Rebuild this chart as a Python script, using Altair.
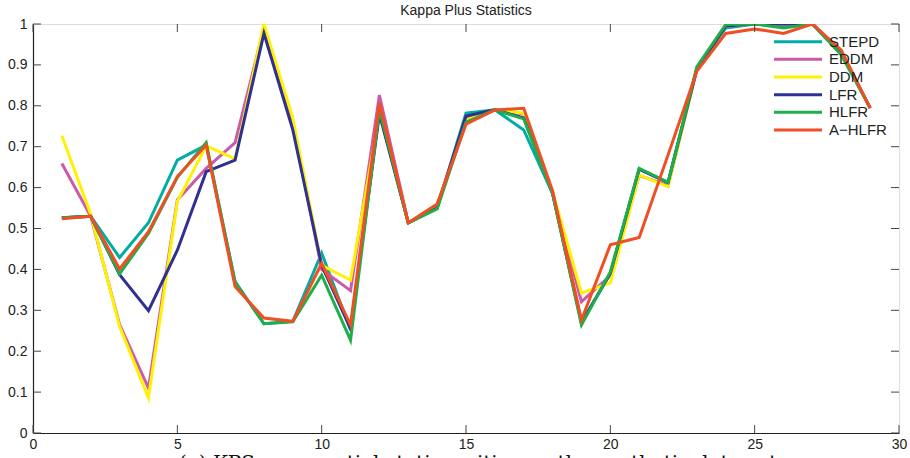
import altair as alt
import pandas as pd

x_vals = list(range(1, 30))

names = ["STEPD", "EDDM", "DDM", "LFR", "HLFR", "A\u2212HLFR"]
colors = ["#00ADA5", "#C95BAA", "#FFF200", "#2E3192", "#1FAE4B", "#F04E23"]

stepd = [0.526, 0.530, 0.429, 0.514, 0.667, 0.704, 0.370, 0.267, 0.273, 0.440,
         0.252, 0.790, 0.514, 0.550, 0.782, 0.790, 0.741, 0.585, 0.270, 0.390,
         0.645, 0.612, 0.893, 0.990, 1.000, 0.995, 1.000, 0.930, 0.795]
eddm = [0.659, 0.530, 0.265, 0.110, 0.570, 0.647, 0.710, 0.990, 0.760, 0.400,
        0.348, 0.826, 0.514, 0.555, 0.768, 0.790, 0.780, 0.587, 0.321, 0.385,
        0.630, 0.605, 0.890, 0.995, 1.000, 1.000, 1.000, 0.930, 0.795]
ddm = [0.727, 0.535, 0.260, 0.086, 0.566, 0.702, 0.670, 1.000, 0.770, 0.410,
       0.374, 0.780, 0.514, 0.550, 0.765, 0.790, 0.782, 0.590, 0.342, 0.367,
       0.631, 0.602, 0.890, 0.995, 1.000, 1.000, 1.000, 0.930, 0.795]
lfr = [0.526, 0.530, 0.387, 0.299, 0.447, 0.639, 0.667, 0.977, 0.741, 0.410,
       0.255, 0.780, 0.514, 0.550, 0.775, 0.790, 0.770, 0.587, 0.270, 0.390,
       0.645, 0.612, 0.890, 0.995, 1.000, 1.000, 1.000, 0.930, 0.795]
hlfr = [0.526, 0.530, 0.389, 0.488, 0.625, 0.710, 0.369, 0.267, 0.272, 0.386,
        0.227, 0.790, 0.514, 0.548, 0.760, 0.790, 0.768, 0.585, 0.264, 0.394,
        0.647, 0.613, 0.896, 0.999, 1.000, 0.990, 1.000, 0.924, 0.795]
ahlfr = [0.524, 0.530, 0.401, 0.492, 0.627, 0.704, 0.358, 0.281, 0.273, 0.415,
         0.264, 0.807, 0.514, 0.560, 0.755, 0.790, 0.794, 0.592, 0.276, 0.460,
         0.478, 0.680, 0.885, 0.977, 0.988, 0.977, 1.000, 0.936, 0.794]

series = [stepd, eddm, ddm, lfr, hlfr, ahlfr]

x_ticks = [0, 5, 10, 15, 20, 25, 30]
y_ticks = [0, 0.1, 0.2, 0.3, 0.4, 0.5, 0.6, 0.7, 0.8, 0.9, 1.0]

title_text = "Kappa Plus Statistics"
caption_text = "(a) KPS over partial stationarities on the synthetic data set"

W, H = 866, 409
FONT = "Liberation Sans"
TXT = "#222222"
TICKLEN = 8

xs = alt.Scale(domain=[0, 30], nice=False, zero=False)
ys = alt.Scale(domain=[0, 1], nice=False, zero=False)

x_axis = alt.Axis(values=x_ticks, tickSize=0, labelPadding=4, grid=False,
                  labelFont=FONT, labelFontSize=14, labelColor=TXT,
                  domainColor="#222222", domainWidth=1.2, title=None,
                  labelFlush=False)
y_axis = alt.Axis(values=y_ticks, tickSize=0, labelPadding=6, grid=False,
                  labelFont=FONT, labelFontSize=14, labelColor=TXT,
                  domainColor="#222222", domainWidth=1.2, title=None,
                  labelExpr="datum.value == 0 ? '0' : datum.value == 1 ? '1' : format(datum.value, '.1f')")

layers = []
for nm, col, vals in zip(names, colors, series):
    df = pd.DataFrame({"x": x_vals, "y": vals})
    layers.append(
        alt.Chart(df).mark_line(color=col, strokeWidth=3, clip=True).encode(
            x=alt.X("x:Q", scale=xs, axis=x_axis),
            y=alt.Y("y:Q", scale=ys, axis=y_axis),
        )
    )

xt = pd.DataFrame({"v": x_ticks})
yt = pd.DataFrame({"v": y_ticks})
tick_col = "#444444"
ticks = [
    alt.Chart(xt).mark_rule(color=tick_col, strokeWidth=1).encode(
        x=alt.X("v:Q", scale=xs, axis=x_axis), y=alt.value(H - TICKLEN), y2=alt.value(H)),
    alt.Chart(xt).mark_rule(color=tick_col, strokeWidth=1).encode(
        x=alt.X("v:Q", scale=xs, axis=x_axis), y=alt.value(0), y2=alt.value(TICKLEN)),
    alt.Chart(yt).mark_rule(color=tick_col, strokeWidth=1).encode(
        y=alt.Y("v:Q", scale=ys, axis=y_axis), x=alt.value(0), x2=alt.value(TICKLEN)),
    alt.Chart(yt).mark_rule(color=tick_col, strokeWidth=1).encode(
        y=alt.Y("v:Q", scale=ys, axis=y_axis), x=alt.value(W - TICKLEN), x2=alt.value(W)),
]

title_df = pd.DataFrame({"t": [title_text]})
title = alt.Chart(title_df).mark_text(
    font=FONT, fontSize=14, color=TXT, align="center", baseline="alphabetic"
).encode(x=alt.value(W / 2), y=alt.value(-9), text="t:N")

cap_df = pd.DataFrame({"t": [caption_text]})
caption = alt.Chart(cap_df).mark_text(
    font="DejaVu Serif", fontSize=20, color="#111111", align="center",
    baseline="alphabetic"
).encode(x=alt.value(445), y=alt.value(H + 37), text="t:N")

main = alt.layer(*layers, *ticks, title, caption)

leg_df = pd.DataFrame({"series": names})
leg_y = alt.Y("series:N", sort=names, axis=None,
              scale=alt.Scale(type="point", range=[17.7, 106], padding=0))
leg_lines = alt.Chart(leg_df).mark_rule(strokeWidth=3).encode(
    y=leg_y, x=alt.value(741), x2=alt.value(789),
    color=alt.Color("series:N", scale=alt.Scale(domain=names, range=colors), legend=None))
leg_text = alt.Chart(leg_df).mark_text(
    align="left", baseline="middle", font=FONT, fontSize=15, color=TXT
).encode(y=leg_y, x=alt.value(796), text="series:N")
legend = alt.layer(leg_lines, leg_text)

chart = alt.layer(main, legend).resolve_scale(y="independent").properties(
    width=W, height=H,
    autosize=alt.AutoSizeParams(type="none"),
    padding={"left": 33, "top": 24, "right": 11, "bottom": 25},
).configure_view(stroke="#444444", strokeWidth=1).configure(background="white")

chart.save("out.html", embed_options={"renderer": "svg", "actions": False})
